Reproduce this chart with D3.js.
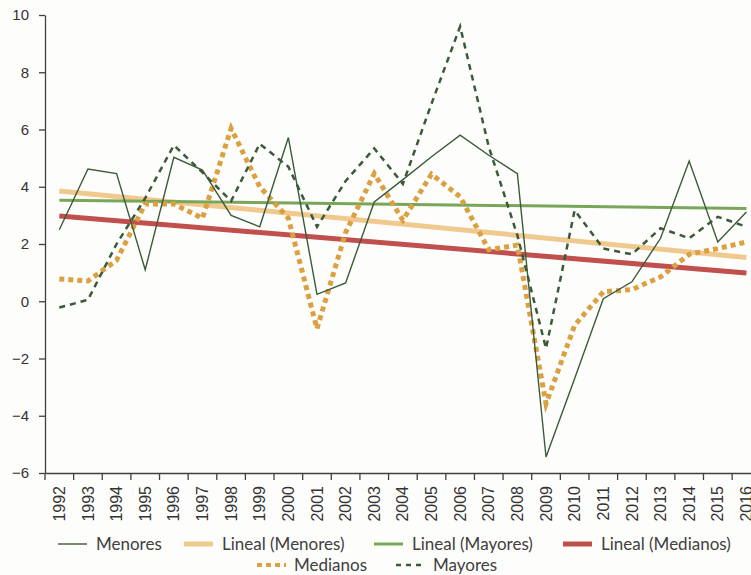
<!DOCTYPE html>
<html>
<head>
<meta charset="utf-8">
<script src="https://cdn.jsdelivr.net/npm/d3@7"></script>
<style>
  body { margin: 0; background: #fdfdfb; }
  svg { display: block; }
  .axis path, .axis line { stroke: #404040; stroke-width: 1.3; }
</style>
</head>
<body>
<div id="chart"></div>
<script>
const years = d3.range(1992, 2017).map(String);

const menores  = [2.5, 4.62, 4.46, 1.1, 5.03, 4.58, 3.0, 2.6, 5.72, 0.24, 0.64, 3.47, 4.25, 5.05, 5.8, 5.1, 4.46, -5.44, -2.7, 0.09, 0.68, 2.2, 4.9, 2.07, 3.12];
const medianos = [0.78, 0.71, 1.43, 3.4, 3.4, 2.9, 6.04, 4.0, 2.9, -0.96, 2.4, 4.46, 2.83, 4.44, 3.65, 1.8, 1.96, -3.58, -0.84, 0.33, 0.41, 0.85, 1.64, 1.84, 2.07];
const mayores  = [-0.22, 0.05, 2.0, 3.6, 5.45, 4.5, 3.5, 5.5, 4.7, 2.6, 4.2, 5.34, 4.1, 6.9, 9.6, 5.4, 2.3, -1.65, 3.18, 1.84, 1.64, 2.55, 2.2, 2.95, 2.6];

// trend line end points (1992, 2016)
const linealMenores  = [3.85, 1.53];
const linealMayores  = [3.53, 3.24];
const linealMedianos = [2.98, 0.99];

const yTicks = [-6, -4, -2, 0, 2, 4, 6, 8, 10];

const width = 751, height = 575;
const svg = d3.select('#chart').append('svg')
  .attr('width', width).attr('height', height);

const x = d3.scaleBand().domain(years).range([45, 45 + 25 * 28.63]).padding(0);
const bw = x.bandwidth();
const cx = d => x(d) + bw / 2;
const y = d3.scaleLinear().domain([-6, 10]).range([473, 15]);

// axes
const xAxis = svg.append('g').attr('class', 'axis')
  .attr('transform', 'translate(0,473)')
  .call(d3.axisBottom(x).tickSize(7).tickSizeOuter(0).tickPadding(6));
xAxis.attr('font-size', null).attr('font-family', null);
xAxis.selectAll('.tick line').attr('transform', `translate(${-bw / 2},0)`);
xAxis.selectAll('.tick text')
  .style('font-size', '16px')
  .style('font-family', '"Liberation Sans", Arial, sans-serif')
  .attr('fill', '#333')
  .attr('transform', 'rotate(-90)')
  .attr('text-anchor', 'end')
  .attr('x', -13).attr('y', 0).attr('dy', '0.35em');

const yAxis = svg.append('g').attr('class', 'axis')
  .attr('transform', 'translate(45,0)')
  .call(d3.axisLeft(y).tickValues(yTicks).tickSize(6).tickSizeOuter(0).tickPadding(10));
yAxis.attr('font-size', null).attr('font-family', null);
yAxis.selectAll('.tick text')
  .style('font-size', '15px')
  .style('font-family', '"Liberation Sans", Arial, sans-serif')
  .attr('fill', '#333');

// trend lines
const trends = [
  {vals: linealMenores, color: '#f0c98f', w: 5},
  {vals: linealMayores, color: '#79a65a', w: 3},
  {vals: linealMedianos, color: '#c0504d', w: 5}
];
trends.forEach(t => {
  svg.append('line')
    .attr('x1', cx(years[0])).attr('y1', y(t.vals[0]))
    .attr('x2', cx(years[years.length - 1])).attr('y2', y(t.vals[1]))
    .attr('stroke', t.color).attr('stroke-width', t.w);
});

const line = d3.line().x((d, i) => cx(years[i])).y(d => y(d));

svg.append('path').datum(medianos)
  .attr('d', line).attr('fill', 'none')
  .attr('stroke', '#dba141').attr('stroke-width', 5)
  .attr('stroke-dasharray', '5,4');

svg.append('path').datum(mayores)
  .attr('d', line).attr('fill', 'none')
  .attr('stroke', '#3b5a3a').attr('stroke-width', 2.5)
  .attr('stroke-dasharray', '6,5');

svg.append('path').datum(menores)
  .attr('d', line).attr('fill', 'none')
  .attr('stroke', '#3b5a3a').attr('stroke-width', 1.4);

// legend
const legendItems = [
  {name: 'Menores', x: 58, y: 544, color: '#3b5a3a', w: 1.4, dash: null},
  {name: 'Lineal (Menores)', x: 184, y: 544, color: '#f0c98f', w: 5, dash: null},
  {name: 'Lineal (Mayores)', x: 374, y: 544, color: '#79a65a', w: 3, dash: null},
  {name: 'Lineal (Medianos)', x: 563, y: 544, color: '#c0504d', w: 5, dash: null},
  {name: 'Medianos', x: 257, y: 565, color: '#dba141', w: 4, dash: '5,4'},
  {name: 'Mayores', x: 396, y: 565, color: '#3b5a3a', w: 2.3, dash: '5,5'}
];
const lg = svg.append('g')
  .attr('font-family', 'Lato, "Open Sans", sans-serif')
  .attr('font-size', 17).attr('fill', '#404040');
legendItems.forEach(it => {
  lg.append('line')
    .attr('x1', it.x).attr('x2', it.x + 29)
    .attr('y1', it.y).attr('y2', it.y)
    .attr('stroke', it.color).attr('stroke-width', it.w)
    .attr('stroke-dasharray', it.dash);
  lg.append('text')
    .attr('x', it.x + (it.dash ? 37 : 38)).attr('y', it.y)
    .attr('dy', '0.35em')
    .text(it.name);
});
</script>
</body>
</html>
